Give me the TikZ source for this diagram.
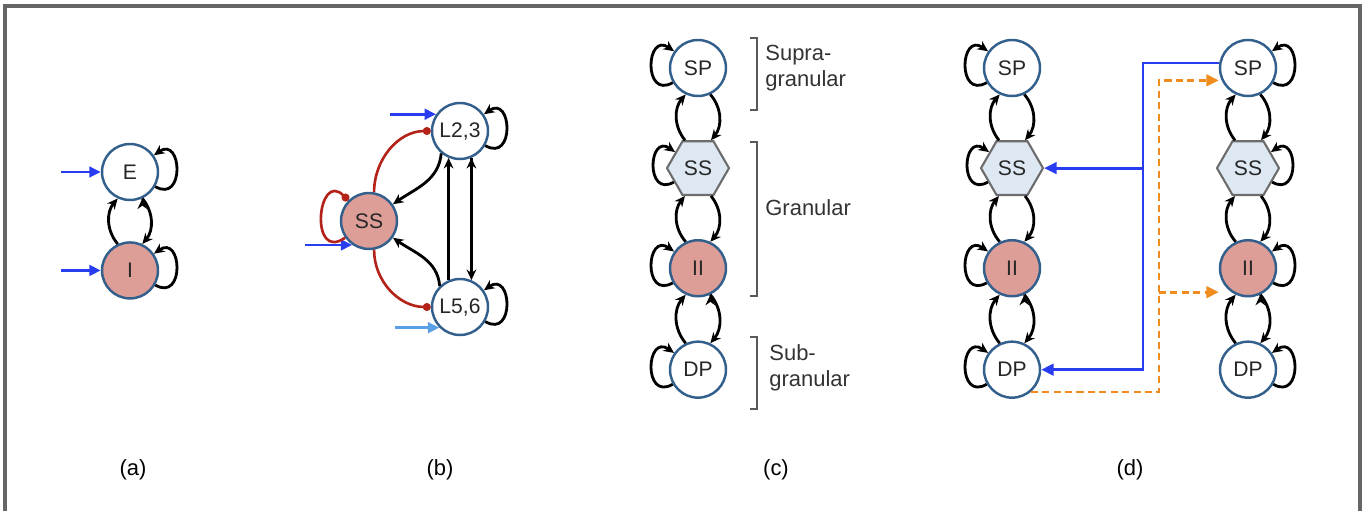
\documentclass[tikz,border=0pt]{standalone}
\usepackage{fontspec}
\setmainfont{Liberation Sans}
\usepackage{tikz}
\usetikzlibrary{positioning}
\usetikzlibrary{arrows.meta}
\usetikzlibrary{shapes.geometric,calc}
\definecolor{ringblue}{RGB}{50,95,140}
\definecolor{inhred}{RGB}{221,158,152}
\definecolor{ssblue}{RGB}{222,232,242}
\definecolor{inblue}{RGB}{40,60,240}
\definecolor{lightin}{RGB}{90,160,230}
\definecolor{linkred}{RGB}{180,35,25}
\definecolor{fborange}{RGB}{240,140,30}
\tikzset{main node/.style={circle,draw=ringblue,fill=white,line width=1.4pt,minimum size=1.12cm,inner sep=0pt,text=black!85,font=\fontsize{12}{14}\selectfont},
  inh node/.style={main node,fill=inhred},
  hex node/.style={regular polygon,regular polygon sides=6,draw=gray!85!black,fill=ssblue,line width=1.2pt,minimum size=1.24cm,inner sep=0pt,text=black!85,font=\fontsize{12}{14}\selectfont},
  loopR/.style={out=-30,in=35,looseness=2.8},
  loopL/.style={out=210,in=145,looseness=2.8},
  input/.style={-{Triangle[length=6.5pt,width=6pt]},inblue,line width=1.6pt},
  inhibit/.style={-{Circle[length=4.5pt]},linkred,line width=1.5pt},
  fbwd/.style={-{Triangle[length=7pt,width=6.5pt]},inblue,line width=1.6pt},
  ffwd/.style={-{Triangle[length=7pt,width=6.5pt]},fborange,line width=1.6pt,dash pattern=on 4pt off 2.5pt},
  frame/.style={-,draw=black!60,line width=1.8pt},
  bracket/.style={-,draw=black!65,line width=1.2pt},
  caption/.style={font=\fontsize{12.5}{15}\selectfont},
  layer/.style={anchor=west,align=left,text=black!80,font=\fontsize{12.5}{15}\selectfont,inner sep=0pt}}

\begin{document}
\begin{tikzpicture}[x=0.02cm, y=0.02cm, ->, >={Stealth[length=6pt,width=5.5pt]}, line width=1.6pt]
	\useasboundingbox (0,0) rectangle (1363,511);
	\draw[frame] (5,0) -- (5,505) -- (1360,505) -- (1360,0);

	% (a)
	\node[main node] (E) at (130,339) {E};
	\node[inh node] (I) [below=0.8cm of E] {I};
	\coordinate[left=0.8cm of E] (inE);
	\coordinate[left=0.8cm of I] (inI);
	\draw[input] (inE) -- (E);
	\draw[input] (inI) -- (I);
	\path[draw]
	(E) edge [loopR] (E)
	(I) edge [loopR] (I)
	(I.115) edge [bend left=40] (E.245)
	(E.-65) edge [bend left=40] (I.65);

	% (b)
	\node[main node] (L23) at (460,380) {L2,3};
	\node[inh node] (SS) at (369,290) {SS};
	\node[main node] (L56) at (460,204) {L5,6};
	\coordinate (inL23) at ($(L23.145)+(-46,0)$);
	\coordinate (inSS) at ($(SS.235)+(-47,0)$);
	\coordinate (inL56) at ($(L56.225)+(-44,0)$);
	\draw[input] (inL23) -- (L23.145);
	\draw[input] (inSS) -- (SS.235);
	\draw[input,lightin] (inL56) -- (L56.225);
	\path[draw]
	(L23) edge [loopR] (L23)
	(L56) edge [loopR] (L56)
	(L23.230) edge [out=-95,in=35] (SS.35)
	(L56.134) edge [out=95,in=-35] (SS.-35)
	(L56.113) edge (L23.247)
	(L23.-67) edge (L56.67);
	\path[inhibit]
	(SS.80) edge [out=90,in=180] (L23.west)
	(SS.-80) edge [out=-90,in=180] (L56.west)
	(SS.215) edge [out=215,in=135,looseness=3] (SS.135);

	% (c)
	\node[main node] (cSP) at (698,443) {SP};
	\node[hex node] (cSS) [below=0.86cm of cSP] {SS};
	\node[inh node] (cII) [below=0.86cm of cSS] {II};
	\node[main node] (cDP) [below=0.86cm of cII] {DP};
	\path[draw]
	(cSP) edge [loopL] (cSP)
	(cSS) edge [loopL] (cSS)
	(cII) edge [loopL] (cII)
	(cDP) edge [loopL] (cDP)
	(cSS.115) edge [bend left=40] (cSP.245)
	(cSP.-65) edge [bend left=40] (cSS.65)
	(cII.115) edge [bend left=40] (cSS.245)
	(cSS.-65) edge [bend left=40] (cII.65)
	(cDP.115) edge [bend left=40] (cII.245)
	(cII.-65) edge [bend left=40] (cDP.65);
	\draw[bracket] (750,473) -- (757,473) -- (757,401) -- (750,401);
	\draw[bracket] (750,369) -- (757,369) -- (757,215) -- (750,215);
	\draw[bracket] (750,174) -- (757,174) -- (757,102) -- (750,102);
	\node[layer] (supra) at (764,443) {Supra-\\granular};
	\node[layer] (gran) at (764,303) {Granular};
	\node[layer] (sub) at (768,143) {Sub-\\granular};

	% (d)
	\node[main node] (lSP) at (1012,443) {SP};
	\node[hex node] (lSS) [below=0.86cm of lSP] {SS};
	\node[inh node] (lII) [below=0.86cm of lSS] {II};
	\node[main node] (lDP) [below=0.86cm of lII] {DP};
	\node[main node] (rSP) at (1248,443) {SP};
	\node[hex node] (rSS) [below=0.86cm of rSP] {SS};
	\node[inh node] (rII) [below=0.86cm of rSS] {II};
	\node[main node] (rDP) [below=0.86cm of rII] {DP};
	\path[draw]
	(lSP) edge [loopL] (lSP)
	(lSS) edge [loopL] (lSS)
	(lII) edge [loopL] (lII)
	(lDP) edge [loopL] (lDP)
	(lSS.115) edge [bend left=40] (lSP.245)
	(lSP.-65) edge [bend left=40] (lSS.65)
	(lII.115) edge [bend left=40] (lSS.245)
	(lSS.-65) edge [bend left=40] (lII.65)
	(lDP.115) edge [bend left=40] (lII.245)
	(lII.-65) edge [bend left=40] (lDP.65);
	\path[draw]
	(rSP) edge [loopR] (rSP)
	(rSS) edge [loopR] (rSS)
	(rII) edge [loopR] (rII)
	(rDP) edge [loopR] (rDP)
	(rSS.115) edge [bend left=40] (rSP.245)
	(rSP.-65) edge [bend left=40] (rSS.65)
	(rII.115) edge [bend left=40] (rSS.245)
	(rSS.-65) edge [bend left=40] (rII.65)
	(rDP.115) edge [bend left=40] (rII.245)
	(rII.-65) edge [bend left=40] (rDP.65);
	\coordinate (bv) at (1143,0);
	\coordinate (ov) at (1159,0);
	\draw[fbwd] (rSP.170) -- (rSP.170 -| bv) |- (lDP.east);
	\draw[fbwd] (lSS.east -| bv) -- (lSS.east);
	\draw[ffwd] (lDP.-50) -| (ov |- rSP.205) -- (rSP.west |- rSP.205);
	\draw[ffwd] (ov |- rII.235) -- (rII.west |- rII.235);

	% captions
	\node[caption] (capa) at (133,41) {(a)};
	\node[caption] (capb) at (440,41) {(b)};
	\node[caption] (capc) at (776,41) {(c)};
	\node[caption] (capd) at (1130,41) {(d)};
\end{tikzpicture}
\end{document}
